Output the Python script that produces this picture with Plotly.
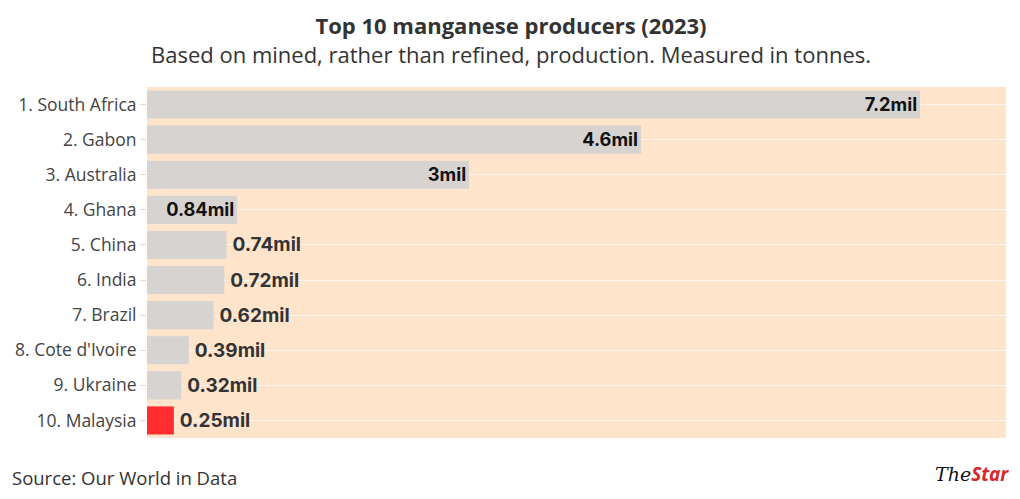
import plotly.graph_objects as go

countries = ["1. South Africa", "2. Gabon", "3. Australia", "4. Ghana", "5. China",
             "6. India", "7. Brazil", "8. Cote d'Ivoire", "9. Ukraine", "10. Malaysia"]
values = [7.2, 4.6, 3.0, 0.84, 0.74, 0.72, 0.62, 0.39, 0.32, 0.25]
labels = ["7.2mil", "4.6mil", "3mil", "0.84mil", "0.74mil", "0.72mil", "0.62mil",
          "0.39mil", "0.32mil", "0.25mil"]
highlight = "10. Malaysia"
title = "Top 10 manganese producers (2023)"
subtitle = "Based on mined, rather than refined, production. Measured in tonnes."

BAR_GREY = "#D7D3D0"
BAR_RED = "#FF2E2E"
colors = [BAR_RED if c == highlight else BAR_GREY for c in countries]
positions = ["inside" if v >= 0.8 else "outside" for v in values]
# small visual gap before labels drawn outside the bar
bar_text = [t if p == "inside" else "\u2009" + t for t, p in zip(labels, positions)]

FONT = "Open Sans"
VFONT = "Inter"

# Browser page has an 8px body margin; build the figure for the visible area.
OFF = 8
W, H = 1020 - OFF, 499 - OFF
pl, pr, pt, pb = 147, 1006, 87, 438  # plot area in screenshot coordinates

fig = go.Figure(go.Bar(
    x=values, y=countries, orientation="h",
    marker=dict(color=colors, line=dict(width=0)),
    text=bar_text, textposition=positions,
    insidetextanchor="end",
    insidetextfont=dict(family=VFONT, size=19, color="#111111", weight="bold"),
    outsidetextfont=dict(family=VFONT, size=19, color="#333333", weight="bold"),
    cliponaxis=False,
    hoverinfo="skip",
))

fig.update_layout(
    width=W, height=H,
    margin=dict(l=pl - OFF, r=1020 - pr, t=pt - OFF, b=499 - pb, autoexpand=False),
    paper_bgcolor="white",
    plot_bgcolor="#FFE4CC",
    bargap=0.2,
    showlegend=False,
    font=dict(family=FONT, color="#333333"),
    xaxis=dict(range=[0, 8], showgrid=False, showticklabels=False, zeroline=False,
               ticks="", fixedrange=True),
    yaxis=dict(autorange="reversed", showgrid=True, gridcolor="rgba(255,255,255,0.6)",
               gridwidth=1, ticks="outside", ticklen=6, tickcolor="#DDDDDD",
               tickfont=dict(family=FONT, size=17.5, color="#444444"),
               zeroline=False, fixedrange=True),
)


def px(x):
    return (x - pl) / (pr - pl)


def py(y):
    return (pb - y) / (pb - pt)


fig.add_annotation(text=f"<b>{title}</b><br>{subtitle}", x=px(511), y=py(39),
                   xref="paper", yref="paper", showarrow=False, xanchor="center", yanchor="middle",
                   align="center", borderpad=0,
                   font=dict(family=FONT, size=22, color="#333333"))
fig.add_annotation(text="Source: Our World in Data", x=px(10), y=py(477),
                   xref="paper", yref="paper", showarrow=False, xanchor="left", yanchor="middle",
                   font=dict(family=FONT, size=18.5, color="#333333"))
fig.add_annotation(text="<i><span style='font-family:DejaVu Serif;color:#111'>The</span></i>"
                        "<b><i><span style='color:#D7262E'>Star</span></i></b>",
                   x=px(1011), y=py(474), xref="paper", yref="paper", showarrow=False,
                   xanchor="right", yanchor="middle",
                   font=dict(family=FONT, size=19, color="#D7262E"))

fig.write_html("out.html")
